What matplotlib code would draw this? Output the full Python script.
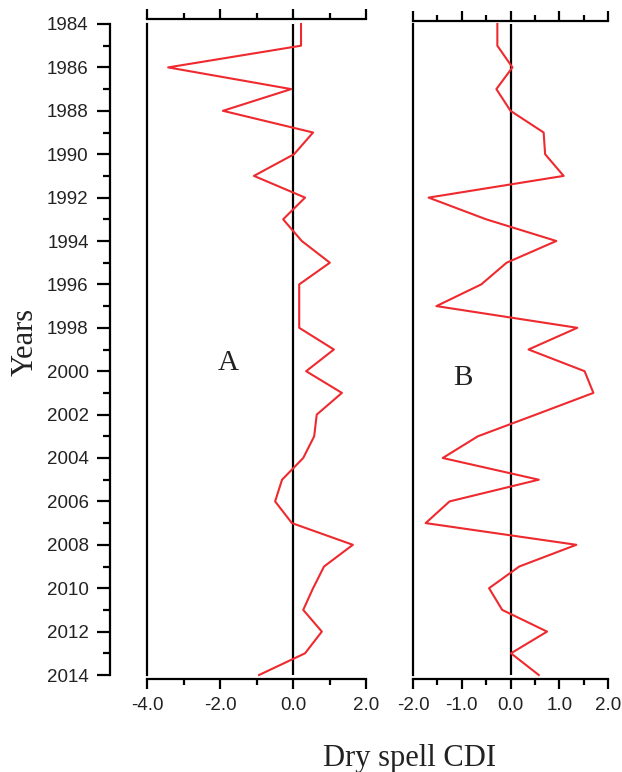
import matplotlib
matplotlib.use("Agg")
import matplotlib.pyplot as plt
from matplotlib.ticker import FixedLocator

years = list(range(1984, 2015))
cdi_a = [0.22, 0.22, -3.42, -0.05, -1.92, 0.55, 0.03, -1.07, 0.33, -0.27,
         0.24, 1.01, 0.17, 0.17, 0.17, 1.12, 0.36, 1.34, 0.65, 0.58,
         0.28, -0.30, -0.49, -0.03, 1.64, 0.85, 0.55, 0.28, 0.79, 0.33, -0.93]
cdi_b = [-0.27, -0.27, 0.04, -0.29, 0.00, 0.68, 0.71, 1.09, -1.68, -0.50,
         0.94, -0.08, -0.60, -1.52, 1.37, 0.37, 1.52, 1.70, 0.52, -0.67,
         -1.39, 0.58, -1.25, -1.74, 1.35, 0.18, -0.44, -0.17, 0.75, 0.01, 0.58]

a_major = [-4, -2, 0, 2]
a_minor = [-3, -1, 1]
b_major = [-2, -1, 0, 1, 2]
b_minor = [-1.5, -0.5, 0.5, 1.5]
y_major = list(range(1984, 2015, 2))
y_minor = list(range(1985, 2014, 2))

SANS = ['Liberation Sans', 'DejaVu Sans']
SERIF = ['Liberation Serif', 'DejaVu Serif']
RED = '#ee2a2f'
TXT = '#222222'
LW = 1.6

fig = plt.figure(figsize=(6.22, 7.72), dpi=100)
W, H = 622, 772
top_px, bot_px = 24, 675
axA = fig.add_axes([147 / W, (H - bot_px) / H, 219 / W, (bot_px - top_px) / H])
axB = fig.add_axes([413 / W, (H - bot_px) / H, 195 / W, (bot_px - top_px) / H])

def style(ax, major, minor, top_off, bot_off):
    ax.set_ylim(2014, 1984)
    ax.spines['right'].set_visible(False)
    ax.spines['top'].set_position(('outward', top_off))
    ax.spines['bottom'].set_position(('outward', bot_off))
    for s in ax.spines.values():
        s.set_linewidth(LW)
    ax.xaxis.set_major_locator(FixedLocator(major))
    ax.xaxis.set_minor_locator(FixedLocator(minor))
    ax.set_xticklabels([f"{v:.1f}" for v in major], fontfamily=SANS, fontsize=13.5, color=TXT)
    ax.tick_params(axis='x', which='both', top=True, bottom=True, labeltop=False,
                   direction='out', width=LW)
    ax.tick_params(axis='x', which='major', length=7, pad=6)
    ax.tick_params(axis='x', which='minor', length=4.5)
    ax.set_facecolor('none')

# Panel A
axA.set_xlim(-4, 2)
style(axA, a_major, a_minor, 3.6, 3.2)
axA.spines['left'].set_position(('outward', 26.6))
axA.yaxis.set_major_locator(FixedLocator(y_major))
axA.yaxis.set_minor_locator(FixedLocator(y_minor))
axA.set_yticklabels([str(y) for y in y_major], fontfamily=SANS, fontsize=13.5, color=TXT)
axA.tick_params(axis='y', which='both', direction='out', width=LW)
axA.tick_params(axis='y', which='major', length=9.4, pad=6)
axA.tick_params(axis='y', which='minor', length=5)
axA.axvline(-4, color='black', lw=LW, clip_on=False)
axA.axvline(0, color='black', lw=LW)
axA.plot(cdi_a, years, color=RED, lw=1.5, clip_on=False)
axA.text(-1.78, 1999.6, 'A', fontfamily=SERIF, fontsize=21, ha='center', va='center', color=TXT)

# Panel B
axB.set_xlim(-2, 2)
style(axB, b_major, b_minor, 2.2, 3.0)
axB.spines['left'].set_visible(False)
axB.set_yticks([])
axB.axvline(-2, color='black', lw=LW, clip_on=False)
axB.axvline(0, color='black', lw=LW)
axB.plot(cdi_b, years, color=RED, lw=1.5, clip_on=False)
axB.text(-0.98, 2000.3, 'B', fontfamily=SERIF, fontsize=21, ha='center', va='center', color=TXT)

fig.text(25 / W, (H - 342) / H, 'Years', fontfamily=SERIF, fontsize=22, rotation=90,
         ha='center', va='center', color=TXT)
fig.text(410 / W, (H - 766) / H, 'Dry spell CDI', fontfamily=SERIF, fontsize=22,
         ha='center', va='baseline', color=TXT)

fig.savefig('out.png', dpi=100)
